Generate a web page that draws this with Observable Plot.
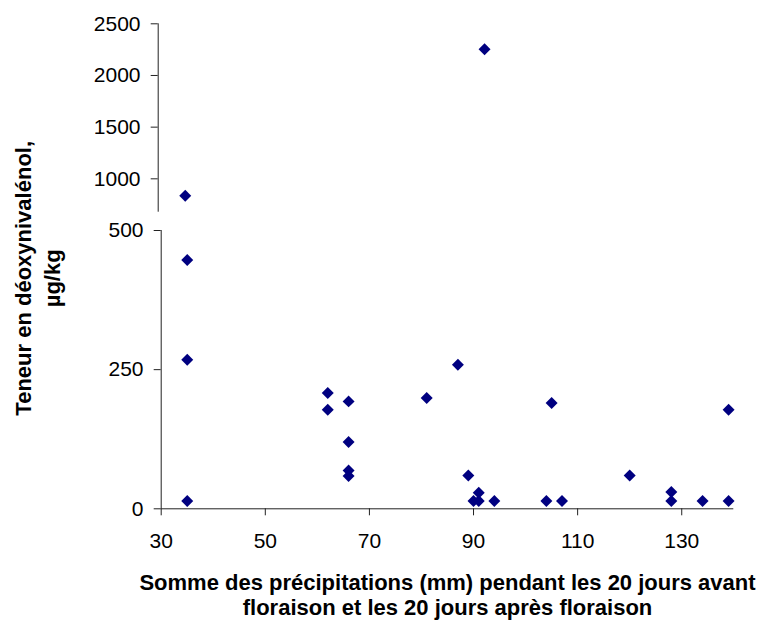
<!DOCTYPE html>
<html><head><meta charset="utf-8">
<script src="https://cdn.jsdelivr.net/npm/d3@7"></script>
<script src="https://cdn.jsdelivr.net/npm/@observablehq/plot@0.6"></script>
<style>body{margin:0;background:#fff}</style>
</head><body><div id="chart"></div>
<script>
// Somme des précipitations (mm)
const rain = [35,35,35,35,62,62,66,66,66,66,81,87,89,90,91,91,92.5,94,104,105,107,120,128,128,134,139,139];
// Teneur en déoxynivalénol (µg/kg)
const don  = [836,447,268,14,208,178,193,120,69,59,199,259,60,14,29,14,2253,14,14,190,14,60,30,14,14,178,14];
const xTicks = [30,50,70,90,110,130];
const lowerTicks = [0,250,500];
const upperTicks = [1000,1500,2000,2500];
const xTitle = "Somme des précipitations (mm) pendant les 20 jours avant\nfloraison et les 20 jours après floraison";
const yTitle = "Teneur en déoxynivalénol,\nµg/kg";

const data = rain.map((r,i)=>({rain:r, don:don[i]}));
const low = data.filter(d=>d.don<=500);
const high = data.filter(d=>d.don>500);
const font = "'Liberation Sans', Arial, sans-serif";
const axisColor = "#222";

// broken axis: upper segment (500–2500) compressed relative to lower (0–500)
const BREAK = 500, TOP = 2500;
const k = ((230 - 23.3) / (TOP - BREAK)) / ((508.3 - 230) / BREAK);
const squash = v => v <= BREAK ? v : BREAK + (v - BREAK) * k;

const plot = Plot.plot({
  width: 766, height: 620,
  marginLeft: 160.7, marginRight: 32.7, marginTop: 23.3, marginBottom: 111.7,
  style: {fontFamily: font, background: "#fff", color: "#000", overflow: "visible"},
  x: {domain: [30,140]},
  y: {transform: squash, domain: [0, squash(TOP)]},
  marks: [
    Plot.ruleX([30], {y1: 0, y2: BREAK, stroke: axisColor}),
    Plot.ruleX([30], {y1: 677, y2: TOP, dx: -3, stroke: axisColor}),
    Plot.ruleY([0], {x1: 30, x2: 140, stroke: axisColor}),
    Plot.axisX(xTicks, {tickSize: 7, tickPadding: 17, fontSize: 21, stroke: axisColor, fill: "#000", label: null, tickFormat: d => String(d)}),
    Plot.axisY(lowerTicks, {tickSize: 7, tickPadding: 10.7, fontSize: 21, stroke: axisColor, fill: "#000", label: null, tickFormat: d => String(d)}),
    Plot.axisY(upperTicks, {tickSize: 7, tickPadding: 10.7, dx: -3, fontSize: 21, stroke: axisColor, fill: "#000", label: null, tickFormat: d => String(d)}),
    Plot.dot(low, {x: "rain", y: "don", symbol: "diamond2", r: 5.4, fill: "#000080", stroke: null}),
    Plot.dot(high, {x: "rain", y: "don", symbol: "diamond2", r: 5.4, fill: "#000080", stroke: null, dx: -2}),
    Plot.text([xTitle], {text: d=>d, frameAnchor: "bottom", lineAnchor: "top", dy: 62.8, fontSize: 22, fontWeight: "bold", lineHeight: 1.15, fill: "#000"}),
    Plot.text([yTitle], {text: d=>d, frameAnchor: "left", textAnchor: "middle", rotate: -90, dx: -125, dy: 12, fontSize: 22, fontWeight: "bold", lineHeight: 1.3, fill: "#000"})
  ]
});
document.getElementById("chart").appendChild(plot);
</script>
</body></html>
